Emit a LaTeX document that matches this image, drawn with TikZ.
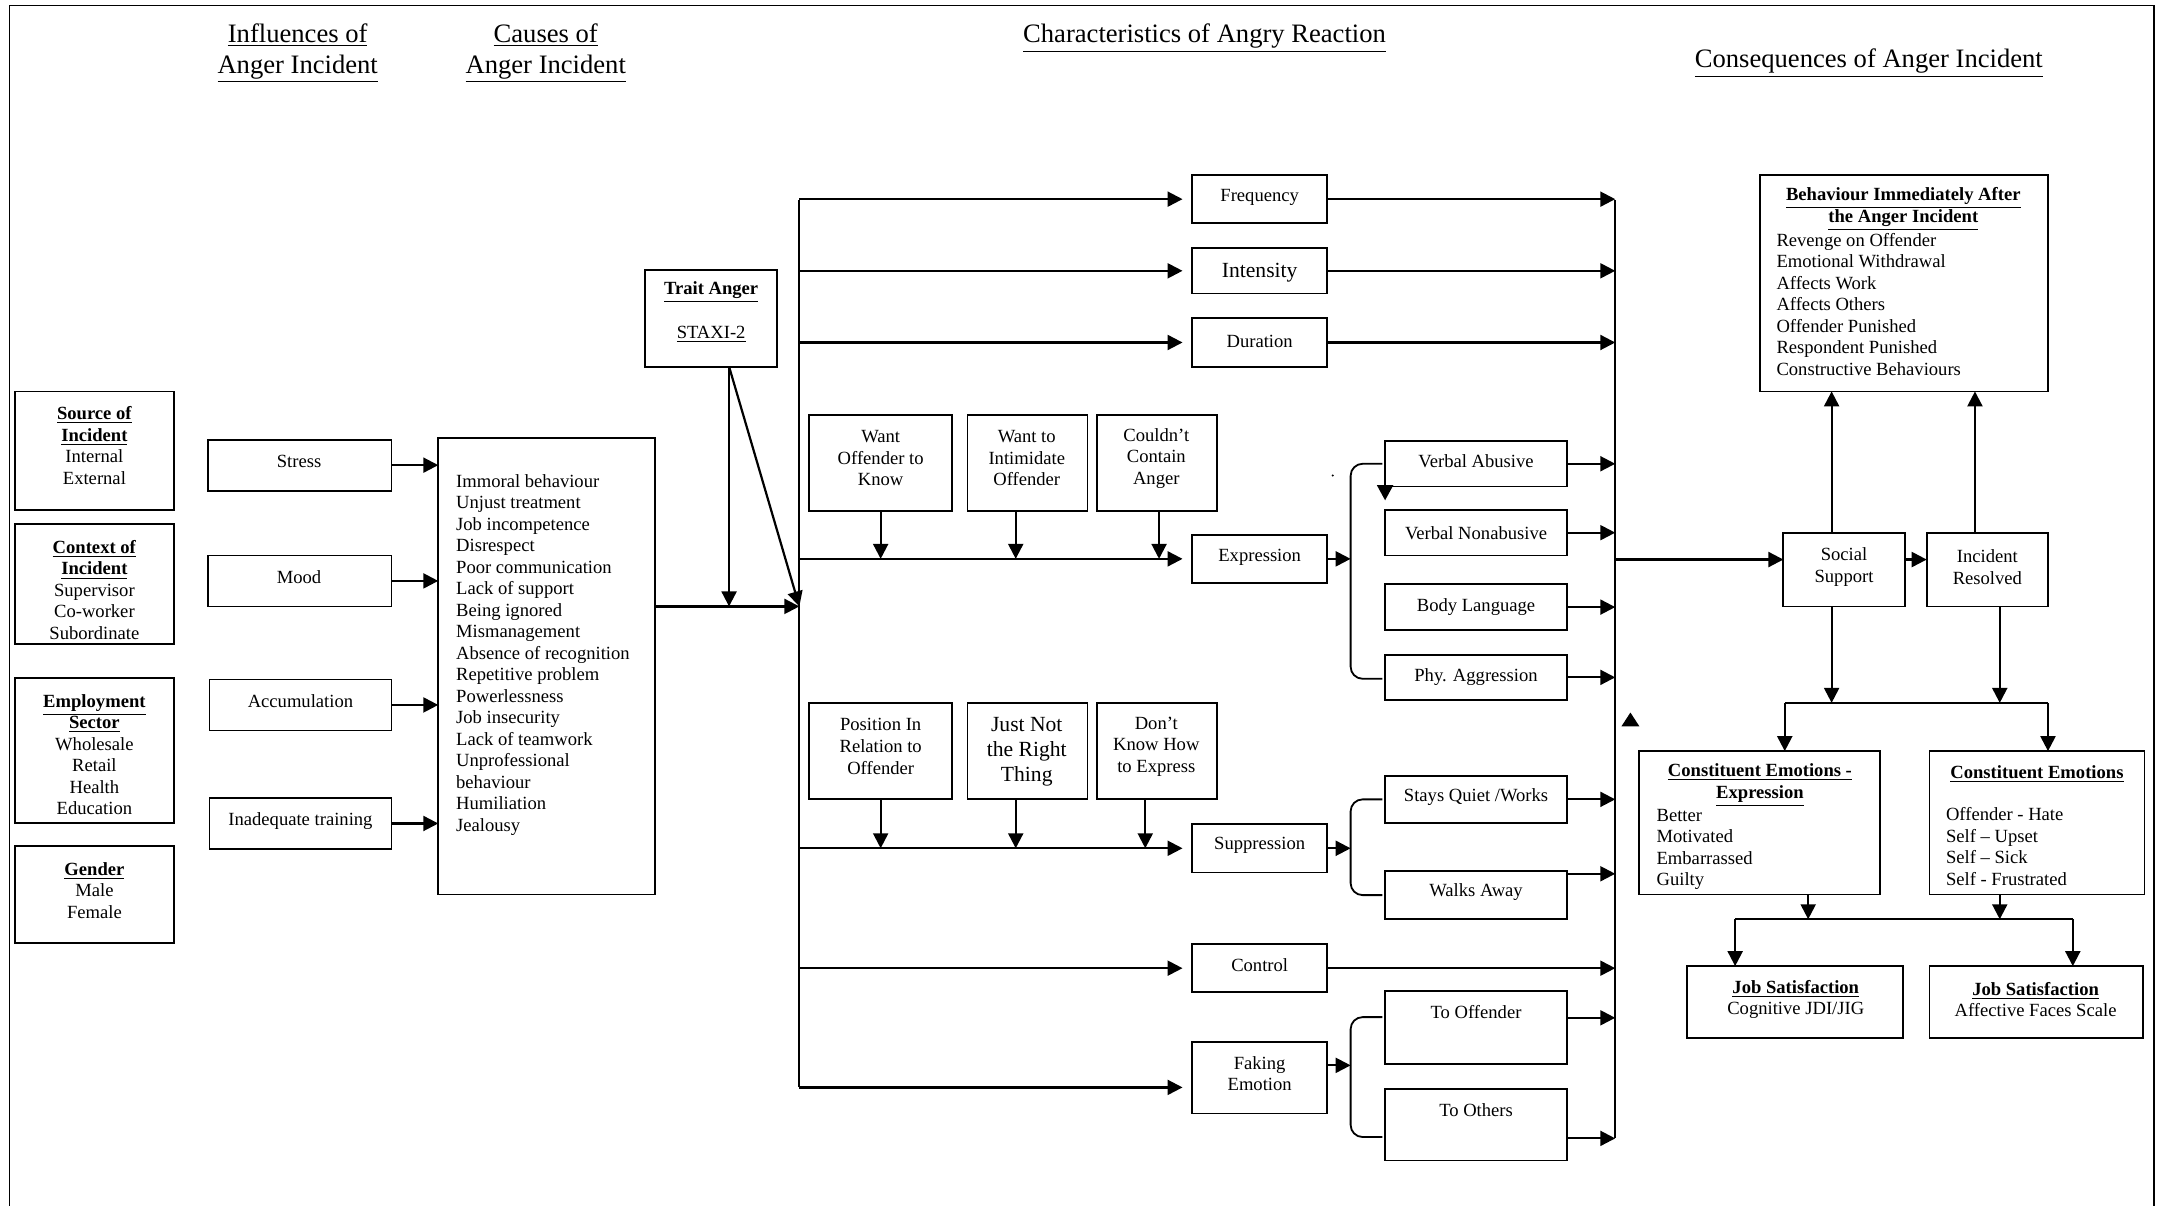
\documentclass[tikz,border=0pt]{standalone}
\usepackage{fontspec}
\setmainfont{Liberation Serif}
\usetikzlibrary{arrows.meta,calc}
\newcommand\fsA{\fontsize{9.3}{10.75}\selectfont}
\newcommand\fsB{\fontsize{10.8}{12.4}\selectfont}
\newcommand\fsT{\fontsize{13.3}{15.2}\selectfont}
\newcommand\bul[1]{\underline{\textbf{#1}}}
\newcommand\mkbox[5]{\node[bx, minimum width={(#4-#2)*0.689pt}, minimum height={(#5-#3)*0.689pt}] (#1) at ({(#2+#4)/2},{(#3+#5)/2}) {};}
\begin{document}
\begin{tikzpicture}[x=0.689pt,y=-0.689pt,
  bx/.style={draw, line width=0.9pt, inner sep=0, outer sep=0},
  txt/.style={inner sep=0, outer sep=0, font=\fsA, align=center, yshift=-1.1pt},
  lst/.style={inner sep=0, outer sep=0, font=\fsA, align=left, anchor=north west, yshift=-0.8pt},
  ttl/.style={inner sep=0, outer sep=0, font=\fsT, align=center, yshift=-2.6pt},
  arr/.style={line width=1.1pt, -{Triangle[length=7.5pt,width=7.5pt]}},
  arrg/.style={arr, shorten >=4.8pt},
  ln/.style={line width=1.1pt},
  bus/.style={line width=0.9pt},
  brc/.style={line width=0.9pt, rounded corners=6pt}]
\useasboundingbox (0,0) rectangle (1568,875);
% frame
\draw[line width=0.8pt] (7,875) -- (7,4) -- (1563,4) -- (1563,875);
% titles
\node[ttl] (t1) at (216,35) {\underline{Influences of}\\\underline{Anger Incident}};
\node[ttl] (t2) at (396,35) {\underline{Causes of}\\\underline{Anger Incident}};
\node[ttl] (t3) at (874,24) {\underline{Characteristics of Angry Reaction}};
\node[ttl] (t4) at (1356,42) {\underline{Consequences of Anger Incident}};
% boxes
\mkbox{src}{11}{284}{126}{370}
\mkbox{ctx}{11}{380}{126}{467}
\mkbox{emp}{11}{492}{126}{597}
\mkbox{gen}{11}{614}{126}{684}
\mkbox{stress}{151}{319}{284}{356}
\mkbox{mood}{151}{403}{284}{440}
\mkbox{accum}{152}{493}{284}{530}
\mkbox{inadq}{152}{579}{284}{616}
\mkbox{causes}{318}{318}{475}{649}
\mkbox{trait}{468}{196}{564}{266}
\mkbox{freq}{865}{127}{963}{162}
\mkbox{inten}{865}{180}{963}{213}
\mkbox{dur}{865}{231}{963}{266}
\mkbox{expr}{865}{388}{963}{423}
\mkbox{supp}{865}{598}{963}{633}
\mkbox{ctrl}{865}{685}{963}{720}
\mkbox{fake}{865}{756}{963}{808}
\mkbox{want}{587}{301}{691}{371}
\mkbox{intim}{702}{301}{789}{371}
\mkbox{contain}{796}{301}{883}{371}
\mkbox{posn}{587}{510}{691}{580}
\mkbox{notright}{702}{510}{789}{580}
\mkbox{dontknow}{796}{510}{883}{580}
\mkbox{vabu}{1005}{320}{1137}{353}
\mkbox{vnon}{1005}{370}{1137}{403}
\mkbox{body}{1005}{424}{1137}{457}
\mkbox{phy}{1005}{475}{1137}{508}
\mkbox{quiet}{1005}{563}{1137}{597}
\mkbox{walk}{1005}{632}{1137}{667}
\mkbox{tooff}{1005}{719}{1137}{772}
\mkbox{tooth}{1005}{790}{1137}{842}
\mkbox{behav}{1277}{127}{1486}{284}
\mkbox{social}{1294}{387}{1382}{440}
\mkbox{resolved}{1398}{387}{1486}{440}
\mkbox{ceexp}{1189}{545}{1364}{649}
\mkbox{ce}{1400}{545}{1556}{649}
\mkbox{jsl}{1224}{701}{1381}{753}
\mkbox{jsr}{1400}{701}{1555}{753}
% texts
\node[txt] (srcT) at (68.5,321.5) {\bul{Source of}\\\bul{Incident}\\Internal\\External};
\node[txt] (ctxT) at (68.5,426.5) {\bul{Context of}\\\bul{Incident}\\Supervisor\\Co-worker\\Subordinate};
\node[txt] (empT) at (68.5,546) {\bul{Employment}\\\bul{Sector}\\Wholesale\\Retail\\Health\\Education};
\node[txt] (genT) at (68.5,644.5) {\bul{Gender}\\Male\\Female};
\node[txt] (stressT) at (217,333) {Stress};
\node[txt] (moodT) at (217,417) {Mood};
\node[txt] (accumT) at (218,507) {Accumulation};
\node[txt] (inadqT) at (218,594) {Inadequate training};
\node[lst] (causesT) at (331,343) {Immoral behaviour\\Unjust treatment\\Job incompetence\\Disrespect\\Poor communication\\Lack of support\\Being ignored\\Mismanagement\\Absence of recognition\\Repetitive problem\\Powerlessness\\Job insecurity\\Lack of teamwork\\Unprofessional\\behaviour\\Humiliation\\Jealousy};
\node[txt] (traitT) at (516,210) {\bul{Trait Anger}};
\node[txt] (staxiT) at (516,241) {\underline{STAXI-2}};
\node[txt] (freqT) at (914,142) {Frequency};
\node[txt,font=\fsB] (intenT) at (914,196) {Intensity};
\node[txt] (durT) at (914,246) {Duration};
\node[txt] (exprT) at (914,403) {Expression};
\node[txt] (suppT) at (914,612) {Suppression};
\node[txt] (ctrlT) at (914,699) {Control};
\node[txt] (fakeT) at (914,777.5) {Faking\\Emotion};
\node[txt] (wantT) at (639,331) {Want\\Offender to\\Know};
\node[txt] (intimT) at (745,331) {Want to\\Intimidate\\Offender};
\node[txt] (containT) at (839,331) {Couldn’t\\Contain\\Anger};
\node[txt] (posnT) at (639,540) {Position In\\Relation to\\Offender};
\node[txt,font=\fsB] (notrightT) at (745,544) {Just Not\\the Right\\Thing};
\node[txt] (dontknowT) at (839,540) {Don’t\\Know How\\to Express};
\node[txt] (vabuT) at (1071,333) {Verbal Abusive};
\node[txt] (vnonT) at (1071,385) {Verbal Nonabusive};
\node[txt] (bodyT) at (1071,439) {Body Language};
\node[txt] (phyT) at (1071,490) {Phy. Aggression};
\node[txt] (quietT) at (1071,577) {Stays Quiet /Works};
\node[txt] (walkT) at (1071,646) {Walks Away};
\node[txt] (tooffT) at (1071,733) {To Offender};
\node[txt] (toothT) at (1071,804) {To Others};
\node[txt] (socialT) at (1338,410) {Social\\Support};
\node[txt] (resolvedT) at (1442,410) {Incident\\Resolved};
\node[txt] (behavH) at (1381,150) {\bul{Behaviour Immediately After}\\\bul{the Anger Incident}};
\node[lst] (behavL) at (1289,168) {Revenge on Offender\\Emotional Withdrawal\\Affects Work\\Affects Others\\Offender Punished\\Respondent Punished\\Constructive Behaviours};
\node[txt] (ceexpH) at (1277,568) {\bul{Constituent Emotions -}\\\bul{Expression}};
\node[lst] (ceexpL) at (1202,586) {Better\\Motivated\\Embarrassed\\Guilty};
\node[txt] (ceH) at (1478,560) {\bul{Constituent Emotions}};
\node[lst] (ceL) at (1412,585) {Offender - Hate\\Self – Upset\\Self – Sick\\Self - Frustrated};
\node[txt] (jslT) at (1303,723.5) {\bul{Job Satisfaction}\\Cognitive JDI/JIG};
\node[txt] (jsrT) at (1477,723.5) {\bul{Job Satisfaction}\\Affective Faces Scale};
% influences -> causes
\foreach \b in {stress,mood,accum,inadq}
  \draw[arr] (\b.east) -- (\b.east -| causes.west);
% left bus
\coordinate (lbtop) at (580,145);
\coordinate (lbbot) at (580,789);
\coordinate (cj) at (580,440);
\coordinate (tA) at (529,266);
\draw[bus] (lbtop) -- (lbbot);
\draw[arr] (causes.east |- cj) -- (cj);
\draw[arr] (tA) -- (tA |- cj);
\draw[arr] (tA) -- (cj);
\foreach \b in {freq,inten,dur,expr,supp,ctrl}
  \draw[arrg] (\b.west -| lbtop) -- (\b.west);
\draw[arrg] (lbbot) -- (lbbot -| fake.west);
% motives
\coordinate (m1) at (want.south);
\coordinate (m2) at ($(intim.south)+(-8.5,0)$);
\coordinate (m3) at ($(contain.south)+(1.5,0)$);
\foreach \m in {m1,m2,m3} \draw[arr] (\m) -- (\m |- expr.west);
\coordinate (s1) at (posn.south);
\coordinate (s2) at ($(notright.south)+(-8.5,0)$);
\coordinate (s3) at ($(dontknow.south)+(-8.5,0)$);
\foreach \m in {s1,s2,s3} \draw[arr] (\m) -- (\m |- supp.west);
% braces
\coordinate (ebr) at (980,405.5);
\coordinate (sbr) at (980,615.5);
\coordinate (fbr) at (980,773);
\draw[arr] (expr.east) -- (ebr);
\draw[arr] (supp.east) -- (sbr);
\draw[arr] (fake.east |- fbr) -- (fbr);
\draw[brc] ($(vabu.west)+(-2,0)$) -| (ebr) |- ($(phy.west)+(-2,1)$);
\draw[brc] ($(quiet.west)+(-2,0)$) -| (sbr) |- ($(walk.west)+(-2,0)$);
\draw[brc] ($(tooff.west)+(-2,-7.5)$) -| (fbr) |- ($(tooth.west)+(-2,9)$);
\fill (999,352) -- (1011,352) -- (1005,363) -- cycle;
\fill (967,345) circle (0.8);
\fill (1176.5,527) -- (1189.5,527) -- (1183,517) -- cycle;
% right bus
\coordinate (rbtop) at (1172,145);
\coordinate (rbbot) at (1172,826);
\coordinate (rbj) at (1172,406);
\draw[bus] (rbtop) -- (rbbot);
\foreach \b in {freq,inten,dur,ctrl,vabu,vnon,body,phy,quiet}
  \draw[arr] (\b.east) -- (\b.east -| rbtop);
\coordinate (w1) at ($(walk.north east)+(0,2)$);
\coordinate (w2) at ($(tooff.east)+(0,-7)$);
\coordinate (w3) at ($(tooth.east)+(0,10)$);
\foreach \w in {w1,w2,w3} \draw[arr] (\w) -- (\w -| rbtop);
% consequences
\draw[arr] (rbj) -- (rbj -| social.west);
\draw[arr] (social.east |- rbj) -- (resolved.west |- rbj);
\coordinate (su) at ($(social.north)+(-9,0)$);
\coordinate (ru) at ($(resolved.north)+(-9,0)$);
\draw[arr] (su) -- (su |- behav.south);
\draw[arr] (ru) -- (ru |- behav.south);
\coordinate (sd) at ($(social.south)+(-9,0)$);
\coordinate (rd) at ($(resolved.south)+(9,0)$);
\coordinate (hl) at (1295,510);
\coordinate (hr) at (1486,510);
\draw[arr] (sd) -- (sd |- hl);
\draw[arr] (rd) -- (rd |- hl);
\draw[ln] (hl) -- (hr);
\draw[arr] (hl) -- (hl |- ceexp.north);
\draw[arr] (hr) -- (hr |- ce.north);
\coordinate (cd1) at ($(ceexp.south)+(35.5,0)$);
\coordinate (cd2) at ($(ce.south)+(-27,0)$);
\coordinate (gl) at (1259,667);
\coordinate (gr) at (1504,667);
\draw[arr] (cd1) -- (cd1 |- gl);
\draw[arr] (cd2) -- (cd2 |- gl);
\draw[ln] (gl) -- (gr);
\draw[arr] (gl) -- (gl |- jsl.north);
\draw[arr] (gr) -- (gr |- jsr.north);
\end{tikzpicture}
\end{document}
